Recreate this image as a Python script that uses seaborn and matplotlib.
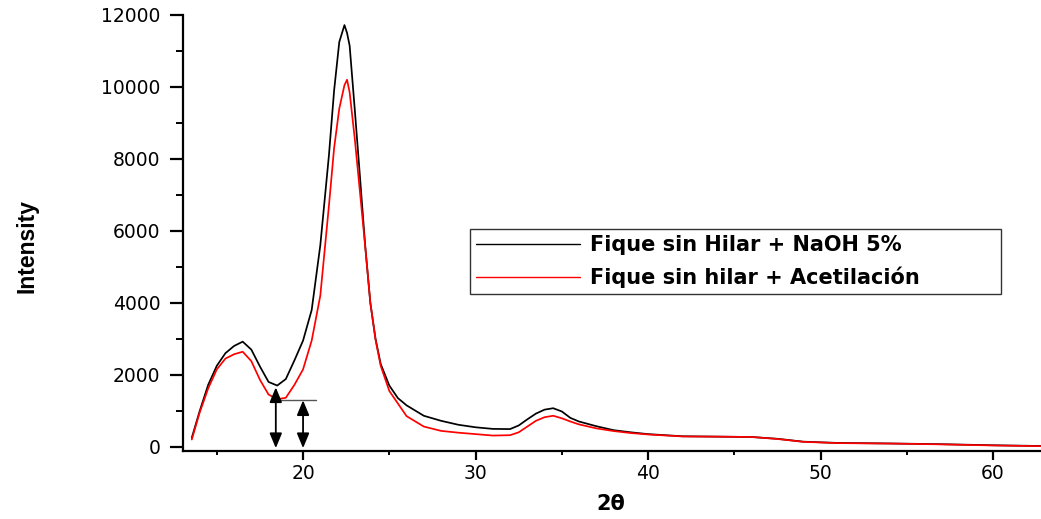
import matplotlib
matplotlib.use("Agg")
import matplotlib.pyplot as plt
from matplotlib.ticker import MultipleLocator
from matplotlib.lines import Line2D
import pandas as pd
import seaborn as sns

# Diffraction angle grid (2θ, degrees)
two_theta = [13.55, 14.0, 14.5, 15.0, 15.5, 16.0, 16.5, 17.0, 17.5, 18.0,
             18.5, 19.0, 19.5, 20.0, 20.5, 21.0, 21.5, 21.8, 22.1, 22.4,
             22.55, 22.7, 23.0, 23.3, 23.6, 23.9, 24.2, 24.5, 25.0, 25.5,
             26.0, 27.0, 28.0, 29.0, 30.0, 31.0, 32.0, 32.5, 33.0, 33.5,
             34.0, 34.5, 35.0, 35.5, 36.0, 37.0, 38.0, 39.0, 40.0, 42.0,
             44.0, 46.0, 47.5, 49.0, 51.0, 54.0, 57.0, 60.0, 62.8]

# Intensity, fibre washed with NaOH 5%
naoh = [250, 980, 1720, 2250, 2600, 2800, 2920, 2700, 2230, 1800,
        1700, 1880, 2400, 2950, 3800, 5600, 8100, 9900, 11250, 11720,
        11500, 11150, 9360, 7500, 5600, 4000, 3000, 2300, 1700, 1350,
        1150, 860, 720, 610, 540, 495, 490, 590, 760, 920,
        1030, 1070, 980, 800, 700, 570, 460, 400, 350, 290,
        280, 270, 220, 140, 105, 90, 70, 40, 20]

# Intensity, acetylated fibre
acetilacion = [200, 940, 1620, 2150, 2450, 2570, 2640, 2380, 1860, 1450,
               1320, 1360, 1720, 2150, 2950, 4200, 6700, 8300, 9400, 10050,
               10200, 9850, 8550, 7070, 5580, 4000, 2980, 2250, 1550, 1200,
               850, 560, 440, 390, 350, 310, 320, 400, 560, 720,
               820, 860, 790, 700, 620, 510, 435, 380, 340, 285,
               280, 270, 215, 135, 100, 88, 65, 35, 15]

series_names = ["Fique sin Hilar + NaOH 5%", "Fique sin hilar + Acetilación"]
series_colors = ["black", "red"]

# Segal method markers: amorphous intensity readings near 18°
arrow_angles = [18.42, 20.0]
arrow_tops = [1650, 1290]
baseline_level = 1290
baseline_span = [18.3, 20.75]

df = pd.concat([
    pd.DataFrame({"2θ": two_theta, "Intensity": naoh, "Muestra": series_names[0]}),
    pd.DataFrame({"2θ": two_theta, "Intensity": acetilacion, "Muestra": series_names[1]}),
], ignore_index=True)

sns.set_style("ticks")
plt.rcParams["font.family"] = ["DejaVu Sans"]
plt.rcParams["text.color"] = "black"
plt.rcParams["axes.labelcolor"] = "black"
plt.rcParams["xtick.color"] = "black"
plt.rcParams["ytick.color"] = "black"

W, H = 1041, 519
fig = plt.figure(figsize=(W / 100, H / 100), dpi=100)
ax = fig.add_axes([183 / W, 1 - 450.7 / H, 1 - 183 / W, (450.7 - 15) / H])

sns.lineplot(data=df, x="2θ", y="Intensity", hue="Muestra",
             palette=dict(zip(series_names, series_colors)),
             linewidth=1.25, ax=ax, sort=True, estimator=None, legend=False)

ax.set_xlim(13.04, 62.78)
ax.set_ylim(-111, 12000)
ax.xaxis.set_major_locator(MultipleLocator(10))
ax.xaxis.set_minor_locator(MultipleLocator(5))
ax.yaxis.set_major_locator(MultipleLocator(2000))
ax.yaxis.set_minor_locator(MultipleLocator(1000))

sns.despine(ax=ax, top=True, right=True)
for s in ("left", "bottom"):
    ax.spines[s].set_linewidth(1.6)
    ax.spines[s].set_color("black")

ax.tick_params(axis="x", which="major", direction="out", length=6.3, width=1.6,
               labelsize=13.5, pad=3.5, colors="black")
ax.tick_params(axis="x", which="minor", direction="out", length=3.2, width=1.4)
ax.tick_params(axis="y", which="major", direction="out", length=9.2, width=1.6,
               labelsize=13.5, pad=7, colors="black")
ax.tick_params(axis="y", which="minor", direction="out", length=4.8, width=1.4)

ax.set_xlabel("")
ax.set_ylabel("")
fig.text(611 / W, 1 - 504.5 / H, "2θ", ha="center", va="center",
         fontsize=15, fontweight="bold", color="black")
fig.text(27 / W, 1 - 246 / H, "Intensity", ha="center", va="center",
         rotation=90, fontsize=16.5, fontweight="bold", color="black",
         family=["Liberation Sans", "DejaVu Sans"])

# Amorphous-region markers
for xa, ya in zip(arrow_angles, arrow_tops):
    ax.annotate("", xy=(xa, -40), xytext=(xa, ya),
                arrowprops=dict(arrowstyle="<|-|>,head_length=0.6,head_width=0.25",
                                color="black", lw=1.3, mutation_scale=15,
                                shrinkA=0, shrinkB=0))
ax.plot(baseline_span, [baseline_level, baseline_level], color="#555555", lw=1.0)

# Legend
handles = [Line2D([], [], color=c, lw=1.0) for c in series_colors]
leg = fig.legend(handles, series_names, loc="upper left",
                 bbox_to_anchor=(470 / W, 1 - 289 / H, 531 / W, 60 / H),
                 bbox_transform=fig.transFigure, mode="expand",
                 borderaxespad=0, frameon=True, fancybox=False,
                 handlelength=5.0, handletextpad=0.45, borderpad=0.3,
                 labelspacing=0.55, prop=dict(size=15, weight="bold"))
leg.get_frame().set_edgecolor("black")
leg.get_frame().set_linewidth(1.0)
for t in leg.get_texts():
    t.set_color("black")

fig.savefig("out.png", dpi=100)
